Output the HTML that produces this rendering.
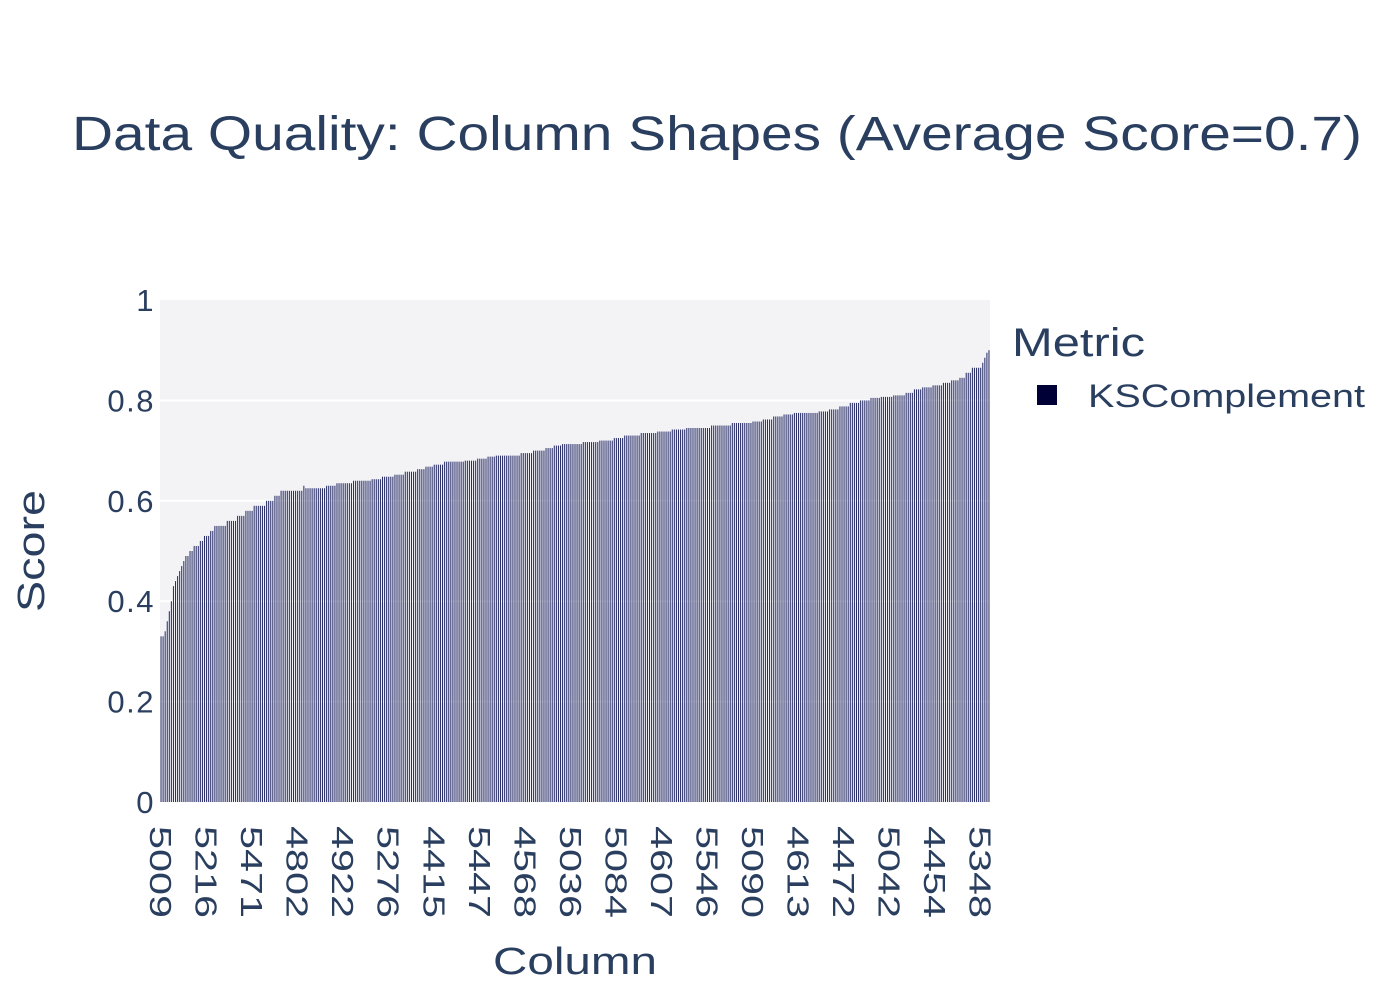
<!DOCTYPE html>
<html><head><meta charset="utf-8"><style>
body{margin:0;background:#fff;}
svg text{font-family:"Liberation Sans","DejaVu Sans",sans-serif;fill:#2a3f5f;}
</style></head><body>
<svg id="chart" width="1400" height="1000">
<rect x="0" y="0" width="1400" height="1000" fill="#fff"/>
<text x="72" y="150" font-size="48" textLength="1290" lengthAdjust="spacingAndGlyphs">Data Quality: Column Shapes (Average Score=0.7)</text>
<rect x="160" y="300" width="830" height="502" fill="#f3f3f6"/>
<g id="grid"></g>
<g id="bars"></g>
<g id="yticks"></g>
<g id="xticks"></g>
<text transform="translate(44,612) rotate(-90)" font-size="38" textLength="122" lengthAdjust="spacingAndGlyphs">Score</text>
<text x="493" y="974" font-size="38" textLength="164" lengthAdjust="spacingAndGlyphs">Column</text>
<g>
<text x="1012" y="356" font-size="40" textLength="133" lengthAdjust="spacingAndGlyphs">Metric</text>
<rect x="1037" y="385" width="20" height="20" fill="#000036"/>
<text x="1088" y="407" font-size="32" textLength="277" lengthAdjust="spacingAndGlyphs">KSComplement</text>
</g>
</svg>
<script>
const scores = [
0.33,0.33,0.34,0.36,0.38,0.40,0.43,0.44,0.45,0.46,
0.47,0.48,0.49,0.49,0.50,0.50,0.51,0.51,0.51,0.52,
0.52,0.53,0.53,0.53,0.54,0.54,0.55,0.55,0.55,0.55,
0.55,0.55,0.56,0.56,0.56,0.56,0.56,0.57,0.57,0.57,
0.57,0.58,0.58,0.58,0.58,0.59,0.59,0.59,0.59,0.59,
0.59,0.60,0.60,0.60,0.60,0.61,0.61,0.61,0.62,0.62,
0.62,0.62,0.62,0.62,0.62,0.62,0.62,0.62,0.62,0.63,
0.625,0.625,0.625,0.625,0.625,0.625,0.625,0.625,0.625,0.625,
0.63,0.63,0.63,0.63,0.63,0.635,0.635,0.635,0.635,0.635,0.635,0.635,0.635,
0.64,0.64,0.64,0.64,0.64,0.64,0.64,0.64,0.64,
0.643,0.643,0.643,0.643,0.643,0.648,0.648,0.648,0.648,0.648,0.648,
0.652,0.652,0.652,0.652,0.652,0.658,0.658,0.658,0.658,0.658,0.658,
0.663,0.663,0.663,0.663,0.668,0.668,0.668,0.668,
0.672,0.672,0.672,0.672,0.672,0.678,0.678,0.678,0.678,0.678,0.678,0.678,0.678,0.678,0.678,
0.68,0.68,0.68,0.68,0.68,0.68,0.684,0.684,0.684,0.684,0.684,0.688,0.688,0.688,0.688,
0.69,0.69,0.69,0.69,0.69,0.69,0.69,0.69,0.69,0.69,0.69,0.69,
0.695,0.695,0.695,0.695,0.695,0.695,0.70,0.70,0.70,0.70,0.70,0.70,
0.705,0.705,0.705,0.705,0.71,0.71,0.71,0.71,
0.713,0.713,0.713,0.713,0.713,0.713,0.713,0.713,0.713,0.713,
0.717,0.717,0.717,0.717,0.717,0.717,0.717,0.717,
0.72,0.72,0.72,0.72,0.72,0.72,0.72,0.725,0.725,0.725,0.725,0.725,
0.73,0.73,0.73,0.73,0.73,0.73,0.73,0.73,0.735,0.735,0.735,0.735,0.735,0.735,0.735,0.735,
0.738,0.738,0.738,0.738,0.738,0.738,0.738,0.742,0.742,0.742,0.742,0.742,0.742,0.742,
0.745,0.745,0.745,0.745,0.745,0.745,0.745,0.745,0.745,0.745,0.745,0.745,
0.75,0.75,0.75,0.75,0.75,0.75,0.75,0.75,0.75,0.75,
0.755,0.755,0.755,0.755,0.755,0.755,0.755,0.755,0.755,0.755,
0.758,0.758,0.758,0.758,0.758,0.762,0.762,0.762,0.762,0.762,
0.768,0.768,0.768,0.768,0.768,0.772,0.772,0.772,0.772,0.772,
0.775,0.775,0.775,0.775,0.775,0.775,0.775,0.775,0.775,0.775,0.775,0.775,
0.778,0.778,0.778,0.778,0.778,0.782,0.782,0.782,0.782,0.782,
0.788,0.788,0.788,0.788,0.788,0.795,0.795,0.795,0.795,0.795,
0.80,0.80,0.80,0.80,0.80,0.805,0.805,0.805,0.805,0.805,
0.807,0.807,0.807,0.807,0.807,0.807,0.81,0.81,0.81,0.81,0.81,0.81,
0.815,0.815,0.815,0.815,0.822,0.822,0.822,0.822,
0.826,0.826,0.826,0.826,0.826,0.83,0.83,0.83,0.83,0.83,
0.835,0.835,0.835,0.835,0.84,0.84,0.84,0.84,0.845,0.845,0.845,
0.855,0.855,0.855,0.865,0.865,0.865,0.865,0.865,0.875,0.885,0.895,0.90
];
const tickLabels = ["5009","5216","5471","4802","4922","5276","4415","5447","4568","5036","5084","4607","5546","5090","4613","4472","5042","4454","5348"];
const tickEvery = 22;
const yTicks = [0,0.2,0.4,0.6,0.8,1];
const yTickText = ["0","0.2","0.4","0.6","0.8","1"];

const NS="http://www.w3.org/2000/svg";
const X0=160,X1=990,Y0=802,Y1=300;
const n=scores.length;
const pitch=(X1-X0)/n;
const xPos=i=>X0+pitch*(i+0.5);
const yPos=v=>Y0-(v-0)/(1-0)*(Y0-Y1);
const grid=document.getElementById('grid');
const yt=document.getElementById('yticks');
yTicks.forEach((v,k)=>{
  if(v>0&&v<1){
    const l=document.createElementNS(NS,'line');
    l.setAttribute('x1',X0);l.setAttribute('x2',X1);
    l.setAttribute('y1',yPos(v));l.setAttribute('y2',yPos(v));
    l.setAttribute('stroke','#fff');l.setAttribute('stroke-width','2');
    
    
    grid.appendChild(l);
  }
  const t=document.createElementNS(NS,'text');
  t.setAttribute('x',155);t.setAttribute('y',yPos(v)+11);
  t.setAttribute('font-size','31');t.setAttribute('text-anchor','end');
  t.setAttribute('letter-spacing','1.5');
  t.textContent=yTickText[k];
  
  
  yt.appendChild(t);
});
const bars=document.getElementById('bars');
scores.forEach((v,i)=>{
  const r=document.createElementNS(NS,'rect');
  const w=pitch*0.5;
  r.setAttribute('x',xPos(i)-w/2);r.setAttribute('width',w);
  r.setAttribute('y',yPos(v));r.setAttribute('height',Y0-yPos(v));
  r.setAttribute('fill','#2a2f68');
  
  
  bars.appendChild(r);
});
const xt=document.getElementById('xticks');
tickLabels.forEach((lab,k)=>{
  const i=k*tickEvery;
  const t=document.createElementNS(NS,'text');
  const x=xPos(i)-11,y=826;
  t.setAttribute('transform','translate('+x+','+y+') rotate(90)');
  t.setAttribute('font-size','31');
  t.setAttribute('textLength','92');
  t.setAttribute('lengthAdjust','spacingAndGlyphs');
  t.textContent=lab;
  
  
  xt.appendChild(t);
});
</script>
</body></html>
